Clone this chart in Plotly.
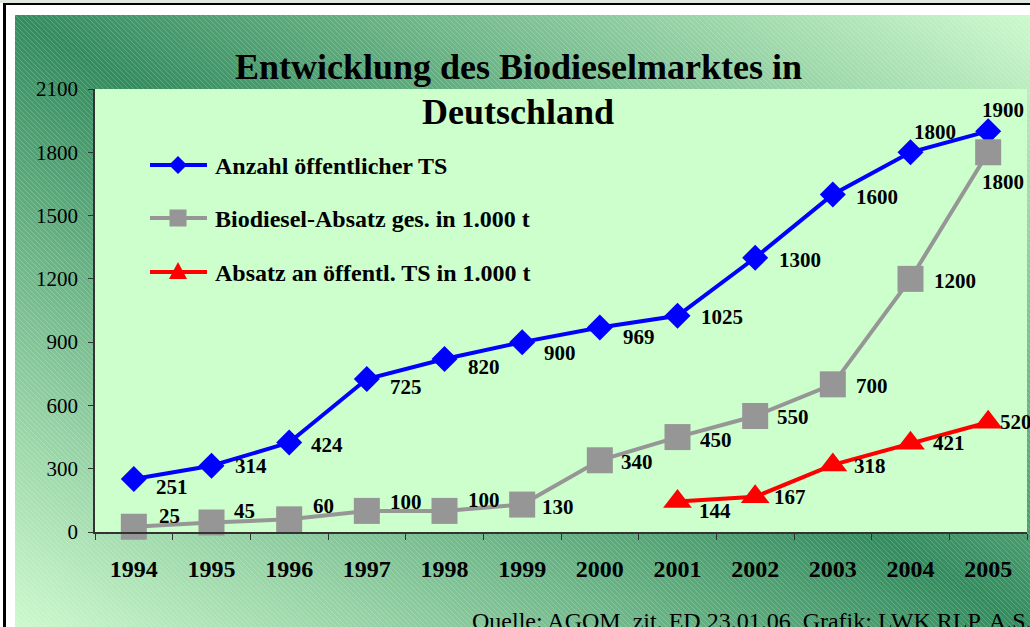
import base64, struct, zlib
import numpy as np
import plotly.graph_objects as go

# ---------------- data ----------------
years = ["1994", "1995", "1996", "1997", "1998", "1999", "2000", "2001", "2002", "2003", "2004", "2005"]
ts_count = [251, 314, 424, 725, 820, 900, 969, 1025, 1300, 1600, 1800, 1900]
biodiesel_total = [25, 45, 60, 100, 100, 130, 340, 450, 550, 700, 1200, 1800]
red_years = ["2001", "2002", "2003", "2004", "2005"]
biodiesel_public = [144, 167, 318, 421, 520]

series_names = [
    "Anzahl öffentlicher TS",
    "Biodiesel-Absatz ges. in 1.000 t",
    "Absatz an öffentl. TS in 1.000 t",
]
title_lines = ["Entwicklung des Biodieselmarktes in", "Deutschland"]
source_text = "Quelle: AGOM, zit. ED 23.01.06, Grafik: LWK RLP, A.S."

# ---------------- layout geometry (pixels) ----------------
W, H = 1030, 627
L, R, T, B = 95, 3, 89, 95
PW, PH = W - L - R, H - T - B
FONT = "Liberation Serif"
COLORS = ["#0000ff", "#969696", "#ff0000"]

# label offsets (pixels: dx right, dy down)
off_blue = [(38, 8), (39, 0), (38, 2), (39, 8), (39, 8), (38, 11), (39, 9), (44, 1), (45, 2), (44, 3), (24, -20), (15, -21)]
off_gray = [(36, -11), (33, -12), (34, -13), (39, -9), (39, -11), (36, 2), (37, 2), (38, 3), (38, 1), (39, 2), (44, 2), (15, 30)]
off_red = [(37, 9), (35, 0), (37, 1), (38, 0), (28, 0)]


def px_to_paper(px, py):
    return (px - L) / PW, (T + PH - py) / PH


# ---------------- background image ----------------
def make_png(arr):
    h, w, _ = arr.shape
    raw = b"".join(b"\x00" + arr[i].tobytes() for i in range(h))

    def chunk(tag, data):
        c = struct.pack(">I", len(data)) + tag + data
        return c + struct.pack(">I", zlib.crc32(tag + data) & 0xFFFFFFFF)

    return (b"\x89PNG\r\n\x1a\n"
            + chunk(b"IHDR", struct.pack(">IIBBBBB", w, h, 8, 2, 0, 0, 0))
            + chunk(b"IDAT", zlib.compress(raw, 9))
            + chunk(b"IEND", b""))


img = np.full((H, W, 3), 255.0)
gx0, gy0 = 15, 15
yy, xx = np.mgrid[0:H, 0:W]
X = (xx - gx0) / (W - gx0)
Y = (yy - gy0) / (H - gy0)
u = np.clip(np.abs(X - Y), 0, 1)
dark = np.array([52, 140, 95], float)
light = np.array([205, 250, 205], float)
grad = dark[None, None, :] + (light - dark)[None, None, :] * u[..., None]
hatch = ((xx - yy) % 5 == 0)[..., None]
grad = np.where(hatch, grad * 0.8 + 255 * 0.2, grad)
green_mask = ((xx >= gx0) & (yy >= gy0))[..., None]
img = np.where(green_mask, grad, img)
img[0:3, :, :] = [222, 232, 222]
img[3:5, 3:, :] = 0
img[3:, 3:6, :] = 0
img[T:T + PH, L:L + PW, :] = [204, 255, 204]
png = make_png(img.astype(np.uint8))
src = "data:image/png;base64," + base64.b64encode(png).decode()

# ---------------- figure ----------------
fig = go.Figure()
fig.add_trace(go.Scatter(
    x=years, y=ts_count, name=series_names[0], mode="lines+markers", showlegend=False,
    line=dict(color=COLORS[0], width=4), cliponaxis=False,
    marker=dict(symbol="diamond", size=20, color=COLORS[0]),
))
fig.add_trace(go.Scatter(
    x=years, y=biodiesel_total, name=series_names[1], mode="lines+markers", showlegend=False,
    line=dict(color=COLORS[1], width=4), cliponaxis=False,
    marker=dict(symbol="square", size=26, color=COLORS[1]),
))
fig.add_trace(go.Scatter(
    x=red_years, y=biodiesel_public, name=series_names[2], mode="lines+markers", showlegend=False,
    line=dict(color=COLORS[2], width=4), cliponaxis=False,
    marker=dict(symbol="triangle-up", size=25, color=COLORS[2]),
))

annotations = []
lab_font = dict(family=FONT, size=21, color="black", weight="bold")
for xs, ys, offs in ((years, ts_count, off_blue), (years, biodiesel_total, off_gray),
                     (red_years, biodiesel_public, off_red)):
    for xv, yv, (dx, dy) in zip(xs, ys, offs):
        annotations.append(dict(x=years.index(xv), y=yv, xref="x", yref="y", text=str(yv),
                                showarrow=False, xshift=dx, yshift=-dy, font=lab_font))

tx, ty1 = px_to_paper(518, 45)
_, ty2 = px_to_paper(518, 90)
for ty, line in ((ty1, title_lines[0]), (ty2, title_lines[1])):
    annotations.append(dict(x=tx, y=ty, xref="paper", yref="paper", text=line, showarrow=False,
                            font=dict(family=FONT, size=36, color="black", weight="bold")))
sx, sy = px_to_paper(470, 621)
annotations.append(dict(x=sx, y=sy, xref="paper", yref="paper", text=source_text, showarrow=False,
                        xanchor="left", yanchor="middle",
                        font=dict(family=FONT, size=24, color="black")))

# ---------------- custom legend (keys drawn as shapes, labels as annotations) ----------------
shapes = []
legend_rows = [165, 218, 272]
key_paths = [
    "M 0 -9 L 9 0 L 0 9 L -9 0 Z",   # diamond
    "M -8.5 -8.5 L 8.5 -8.5 L 8.5 8.5 L -8.5 8.5 Z",  # square
    "M -9 7 L 9 7 L 0 -10 Z",  # triangle
]
for i, ry in enumerate(legend_rows):
    ax_, ay_ = px_to_paper(178, ry)
    shapes.append(dict(type="line", xref="paper", yref="paper", xsizemode="pixel", ysizemode="pixel",
                       xanchor=ax_, yanchor=ay_, x0=-28, x1=29, y0=0, y1=0,
                       line=dict(color=COLORS[i], width=4)))
    toks = key_paths[i].split()
    out = []
    j = 0
    while j < len(toks):
        t = toks[j]
        if t in ("M", "L"):
            out += [t, toks[j + 1], str(-float(toks[j + 2]))]
            j += 3
        else:
            out.append(t)
            j += 1
    shapes.append(dict(type="path", xref="paper", yref="paper", xsizemode="pixel", ysizemode="pixel",
                       xanchor=ax_, yanchor=ay_, path=" ".join(out),
                       fillcolor=COLORS[i], line=dict(color=COLORS[i], width=0)))
    lx, ly = px_to_paper(213, ry + 1)
    annotations.append(dict(x=lx, y=ly, xref="paper", yref="paper", text=series_names[i],
                            showarrow=False, xanchor="left", yanchor="middle",
                            font=dict(family=FONT, size=24, color="black", weight="bold")))

fig.update_layout(
    width=W, height=H,
    margin=dict(l=L, r=R, t=T, b=B, autoexpand=False),
    paper_bgcolor="white", plot_bgcolor="#ccffcc",
    showlegend=False,
    annotations=annotations,
    shapes=shapes,
    images=[dict(source=src, xref="paper", yref="paper", x=-L / PW, y=(T + PH) / PH,
                 sizex=W / PW, sizey=H / PH, xanchor="left", yanchor="top",
                 sizing="stretch", layer="below")],
    xaxis=dict(type="category", categoryorder="array", categoryarray=years, range=[-0.5, 11.5],
               showgrid=False, zeroline=False, showline=True, linecolor="#333333", linewidth=1.5,
               ticks="outside", tickson="boundaries", ticklen=6, tickcolor="#333333",
               tickfont=dict(family=FONT, size=24, color="black", weight="bold"),
               ticklabelstandoff=14),
    yaxis=dict(range=[0, 2100], dtick=300, tick0=0, showgrid=False, zeroline=False,
               showline=True, linecolor="#333333", linewidth=1.5,
               ticks="outside", ticklen=5, tickcolor="#333333",
               tickfont=dict(family=FONT, size=21, color="black"), ticklabelstandoff=6),
)

fig.write_html("out.html", config={"displayModeBar": False},
               post_script="document.body.style.margin='0px';")
